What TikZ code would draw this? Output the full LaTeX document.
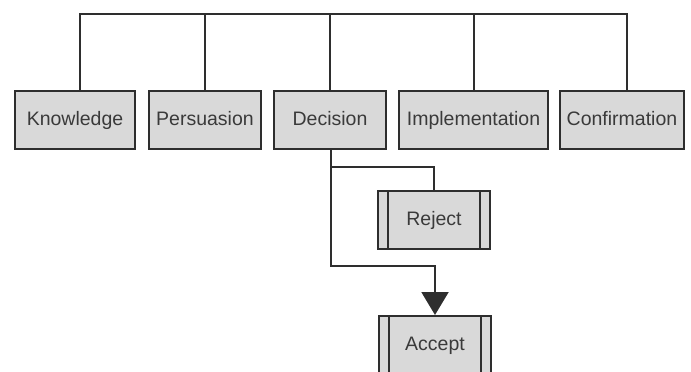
\documentclass[tikz,border=0pt]{standalone}
\usepackage{fontspec}
\setmainfont{Liberation Sans}
\usepackage{xcolor}
\usetikzlibrary{arrows.meta, positioning}

\definecolor{boxfill}{HTML}{D9D9D9}
\definecolor{linecol}{HTML}{2E2E2E}
\definecolor{txtcol}{HTML}{3A3A3A}

\begin{document}
\begin{tikzpicture}[x=1pt,y=-1pt,line width=2pt,draw=linecol,node distance=11pt,
    font=\fontsize{19.5}{21}\selectfont]
    \tikzset{stage/.style={draw=linecol,fill=boxfill,text=txtcol,minimum height=58pt,inner sep=0pt,
                text height=14pt,text depth=4pt},
             outcome/.style={stage,minimum width=112pt,
                path picture={\draw[linecol,line width=1.5pt]
                    ([xshift=10pt]path picture bounding box.north west) -- ([xshift=10pt]path picture bounding box.south west)
                    ([xshift=-10pt]path picture bounding box.north east) -- ([xshift=-10pt]path picture bounding box.south east);}}}

    \useasboundingbox (0,0) rectangle (691,372);
    \clip (0,0) rectangle (691,372);

    \node[stage,minimum width=120pt] (K) at (75,120) {Knowledge};
    \node[stage,minimum width=112pt] (P) [right=12pt of K] {Persuasion};
    \node[stage,minimum width=112pt] (D) [right=of P] {Decision};
    \node[stage,minimum width=149pt] (I) [right=of D] {Implementation};
    \node[stage,minimum width=124pt] (C) [right=10pt of I] {Confirmation};

    \node[outcome] (R) at (434,220) {Reject};
    \node[outcome] (A) at (435,345) {Accept};

    \coordinate (top) at (331,14);
    \draw (K.north -| 80,0) |- (top) -| (C.north -| 627,0);
    \foreach \n in {P,D,I}
        \draw (\n.north) -- (\n.north |- top);

    \coordinate (split) at (331,167);
    \draw (D.south -| split) -- (split) -| (R.north);
    \draw[-{Triangle[length=23pt,width=27pt]}] (split) |- (A.north |- 0,266) -- (A.north);
\end{tikzpicture}
\end{document}
